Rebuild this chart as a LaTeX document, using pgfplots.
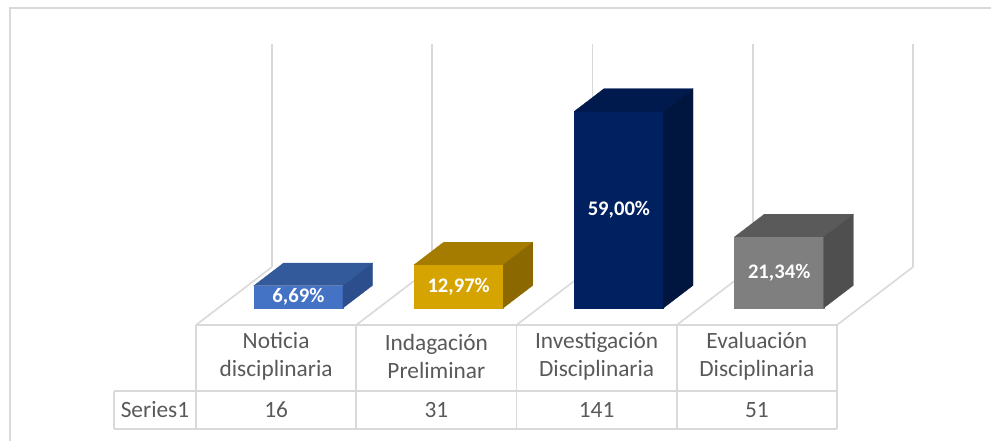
\documentclass[border=0pt]{standalone}
\usepackage{pgfplots}
\pgfplotsset{compat=1.18}
\usepackage{pgfplotstable}
\usepackage{fontspec}
\setmainfont{Carlito}
\usetikzlibrary{calc}
\definecolor{gridc}{HTML}{D9D9D9}
\definecolor{txt}{HTML}{595959}
\definecolor{bF}{HTML}{4472C4}\definecolor{bT}{HTML}{335A9A}\definecolor{bS}{HTML}{2C4E8C}
\definecolor{yF}{HTML}{D6A400}\definecolor{yT}{HTML}{A67C00}\definecolor{yS}{HTML}{8C6900}
\definecolor{nF}{HTML}{002060}\definecolor{nT}{HTML}{001A4D}\definecolor{nS}{HTML}{00163F}
\definecolor{gF}{HTML}{7F7F7F}\definecolor{gT}{HTML}{5A5A5A}\definecolor{gS}{HTML}{4F4F4F}
\pgfplotsset{gl/.style={draw=gridc, line width=1.2pt, mark=none}}
\pgfkeys{/pgf/number format/assume math mode=true}
\pgfplotstableread{
x v p
0.5 16 6.69
1.5 31 12.97
2.5 141 59.00
3.5 51 21.34
}\data
\newcommand{\catfont}{\fontsize{17.5}{21}\selectfont}
\begin{document}
\begin{tikzpicture}
\begin{axis}[
  x={(120.1875pt,0pt)}, y={(57pt,43.5pt)}, z={(0pt,1.04625pt)},
  xmin=-0.6, xmax=4.2, ymin=0, ymax=1, zmin=-80, zmax=165,
  hide axis, clip=false,
  /pgf/number format/assume math mode=true,
]
\coordinate (O) at (axis cs:0,0,0);
% back wall vertical gridlines, floor lines, table separators
\pgfplotsinvokeforeach{0,1,2,3,4}{
  \addplot3[gl] coordinates {(#1,1,0) (#1,1,160)};
  \addplot3[gl] coordinates {(#1,0,0) (#1,1,0)};
  \addplot3[gl] coordinates {(#1,0,0) (#1,0,-74.55)};
}
\addplot3[gl] coordinates {(0,0,0) (4,0,0)};
\addplot3[gl] coordinates {(-0.512,0,-47.3) (4,0,-47.3)};
\addplot3[gl] coordinates {(-0.512,0,-74.55) (4,0,-74.55)};
\addplot3[gl] coordinates {(-0.512,0,-47.3) (-0.512,0,-74.55)};
% bar 1: 16
\addplot3[fill=bF, draw=bF, line width=0.2pt, mark=none] coordinates {(0.222,0.293,0) (0.778,0.293,0) (0.778,0.293,16) (0.222,0.293,16)} -- cycle;
\addplot3[fill=bT, draw=bT, line width=0.2pt, mark=none] coordinates {(0.222,0.293,16) (0.778,0.293,16) (0.778,0.683,16) (0.222,0.683,16)} -- cycle;
\addplot3[fill=bS, draw=bS, line width=0.2pt, mark=none] coordinates {(0.778,0.293,0) (0.778,0.683,0) (0.778,0.683,16) (0.778,0.293,16)} -- cycle;
% bar 2: 31
\addplot3[fill=yF, draw=yF, line width=0.2pt, mark=none] coordinates {(1.222,0.293,0) (1.778,0.293,0) (1.778,0.293,31) (1.222,0.293,31)} -- cycle;
\addplot3[fill=yT, draw=yT, line width=0.2pt, mark=none] coordinates {(1.222,0.293,31) (1.778,0.293,31) (1.778,0.683,31) (1.222,0.683,31)} -- cycle;
\addplot3[fill=yS, draw=yS, line width=0.2pt, mark=none] coordinates {(1.778,0.293,0) (1.778,0.683,0) (1.778,0.683,31) (1.778,0.293,31)} -- cycle;
% bar 3: 141
\addplot3[fill=nF, draw=nF, line width=0.2pt, mark=none] coordinates {(2.222,0.293,0) (2.778,0.293,0) (2.778,0.293,141) (2.222,0.293,141)} -- cycle;
\addplot3[fill=nT, draw=nT, line width=0.2pt, mark=none] coordinates {(2.222,0.293,141) (2.778,0.293,141) (2.778,0.683,141) (2.222,0.683,141)} -- cycle;
\addplot3[fill=nS, draw=nS, line width=0.2pt, mark=none] coordinates {(2.778,0.293,0) (2.778,0.683,0) (2.778,0.683,141) (2.778,0.293,141)} -- cycle;
% bar 4: 51
\addplot3[fill=gF, draw=gF, line width=0.2pt, mark=none] coordinates {(3.222,0.293,0) (3.778,0.293,0) (3.778,0.293,51) (3.222,0.293,51)} -- cycle;
\addplot3[fill=gT, draw=gT, line width=0.2pt, mark=none] coordinates {(3.222,0.293,51) (3.778,0.293,51) (3.778,0.683,51) (3.222,0.683,51)} -- cycle;
\addplot3[fill=gS, draw=gS, line width=0.2pt, mark=none] coordinates {(3.778,0.293,0) (3.778,0.683,0) (3.778,0.683,51) (3.778,0.293,51)} -- cycle;
% percentage labels
\addplot3[draw=none, mark=none, point meta=explicit,
  nodes near coords={\pgfmathprintnumber[fixed,fixed zerofill,precision=2,use comma,assume math mode=true]{\pgfplotspointmeta}\%},
  nodes near coords align=center,
  every node near coord/.append style={anchor=center, text=white, font=\fontsize{15.5}{18}\selectfont\bfseries}]
  table[x=x, y expr=0.293, z expr=\thisrow{v}/2, meta=p] {\data};
% table values
\addplot3[draw=none, mark=none, point meta=explicit,
  nodes near coords={\pgfmathprintnumber[assume math mode=true]{\pgfplotspointmeta}},
  nodes near coords align=center,
  every node near coord/.append style={anchor=center, yshift=-63.75pt, text=txt, font=\catfont}]
  table[x=x, y expr=0, z expr=0, meta=v] {\data};
\node[align=center, text=txt, font=\catfont, yshift=-23.5pt] at (axis cs:0.5,0,0) {Noticia\\disciplinaria};
\node[align=center, text=txt, font=\catfont, yshift=-23.5pt] at (axis cs:1.5,0,0) {Indagación\\Preliminar};
\node[align=center, text=txt, font=\catfont, yshift=-23.5pt] at (axis cs:2.5,0,0) {Investigación\\Disciplinaria};
\node[align=center, text=txt, font=\catfont, yshift=-23.5pt] at (axis cs:3.5,0,0) {Evaluación\\Disciplinaria};
\node[text=txt, font=\catfont, yshift=-63.75pt] at (axis cs:-0.256,0,0) {Series1};
\end{axis}
\pgfresetboundingbox
\path[use as bounding box] ($(O)+(-147pt,243.75pt)$) rectangle ($(O)+(596.25pt,-87pt)$);
\draw[gridc, line width=1.5pt] ($(O)+(-139.5pt,-90pt)$) -- ($(O)+(-139.5pt,237.75pt)$) -- ($(O)+(600pt,237.75pt)$);
\end{tikzpicture}
\end{document}
